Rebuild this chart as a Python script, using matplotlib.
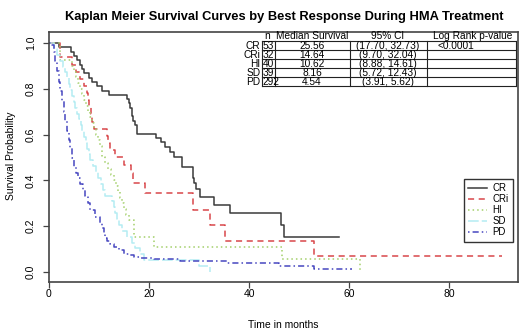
import matplotlib
matplotlib.use("Agg")
import matplotlib.pyplot as plt
from matplotlib.lines import Line2D

# ---- data (months, survival probability) ----
groups = ["CR", "CRi", "HI", "SD", "PD"]
n_pat = ["53", "32", "40", "39", "292"]
median_surv = ["25.56", "14.64", "10.62", "8.16", "4.54"]
ci_95 = ["(17.70, 32.73)", "(9.70, 32.04)", "(8.88, 14.61)", "(5.72, 12.43)", "(3.91, 5.62)"]
p_value = "<0.0001"

cr_t = [0, 2.0, 4.4, 5.0, 5.6, 6.2, 6.6, 7.0, 8.0, 8.6, 9.6, 10.6, 11.9, 15.5, 15.9,
        16.2, 16.5, 16.8, 17.1, 17.5, 21.3, 22.3, 23.2, 24.1, 24.9, 26.5, 28.7, 29.0,
        29.4, 30.1, 32.9, 36.1, 46.3, 46.9, 57.9]
cr_s = [1.0, 0.981, 0.962, 0.943, 0.925, 0.906, 0.887, 0.868, 0.849, 0.83, 0.811, 0.792,
        0.774, 0.755, 0.736, 0.717, 0.679, 0.66, 0.642, 0.604, 0.585, 0.566, 0.547,
        0.524, 0.50, 0.457, 0.41, 0.387, 0.363, 0.329, 0.293, 0.256, 0.205, 0.154, 0.154]

cri_t = [0, 2.2, 4.6, 5.3, 6.2, 7.0, 7.5, 7.8, 8.0, 8.3, 8.6, 9.0, 11.5, 11.8, 12.2,
         13.2, 14.9, 16.3, 16.8, 19.2, 28.8, 32.1, 35.2, 53.0, 90.5]
cri_s = [1.0, 0.938, 0.906, 0.875, 0.844, 0.812, 0.781, 0.75, 0.719, 0.688, 0.656,
         0.625, 0.594, 0.563, 0.531, 0.50, 0.469, 0.43, 0.387, 0.344, 0.27, 0.205,
         0.137, 0.069, 0.069]

hi_t = [0, 2.2, 4.6, 5.0, 5.4, 5.8, 6.2, 6.6, 7.0, 7.4, 7.8, 8.2, 8.6, 9.0, 9.4, 9.8,
        10.2, 10.6, 11.2, 11.8, 12.4, 13.0, 13.4, 13.8, 14.2, 14.6, 14.9, 15.3, 15.9,
        16.9, 21.0, 46.5, 62.1]
hi_s = [1.0, 0.925, 0.90, 0.875, 0.85, 0.825, 0.80, 0.775, 0.75, 0.725, 0.70, 0.675,
        0.65, 0.625, 0.60, 0.575, 0.55, 0.50, 0.475, 0.45, 0.425, 0.40, 0.375, 0.35,
        0.325, 0.30, 0.275, 0.25, 0.225, 0.154, 0.11, 0.055, 0.0]

sd_t = [0, 1.0, 1.6, 2.2, 2.7, 3.2, 3.6, 3.9, 4.2, 4.5, 4.9, 5.2, 5.6, 5.9, 6.3, 6.6,
        7.0, 7.3, 7.6, 7.9, 8.16, 8.8, 9.3, 9.8, 10.3, 10.8, 11.2, 12.6, 12.9, 13.1,
        13.5, 14.0, 14.5, 15.5, 16.5, 17.2, 18.2, 19.0, 30.0, 32.2]
sd_s = [1.0, 0.974, 0.949, 0.923, 0.897, 0.872, 0.846, 0.821, 0.795, 0.769, 0.744,
        0.718, 0.692, 0.667, 0.641, 0.615, 0.59, 0.564, 0.538, 0.513, 0.487, 0.462,
        0.436, 0.41, 0.385, 0.359, 0.333, 0.308, 0.282, 0.256, 0.231, 0.205, 0.179,
        0.154, 0.128, 0.103, 0.077, 0.051, 0.026, 0.0]

pd_t = [0, 0.5, 0.9, 1.2, 1.5, 1.9, 2.2, 2.6, 2.9, 3.2, 3.5, 3.9, 4.2, 4.54, 5.0, 5.4,
        5.8, 6.2, 6.7, 7.2, 7.7, 8.2, 9.2, 10.2, 10.6, 10.9, 11.2, 11.5, 12.2, 12.9,
        13.9, 14.9, 15.9, 16.9, 18.2, 20.9, 26.2, 35.5, 46.0, 53.0, 60.5]
pd_s = [1.0, 0.99, 0.96, 0.92, 0.876, 0.83, 0.789, 0.745, 0.70, 0.66, 0.614, 0.575,
        0.541, 0.497, 0.46, 0.43, 0.41, 0.385, 0.36, 0.33, 0.30, 0.27, 0.242, 0.213,
        0.19, 0.169, 0.15, 0.133, 0.12, 0.11, 0.095, 0.08, 0.072, 0.067, 0.06, 0.055,
        0.048, 0.038, 0.028, 0.012, 0.012]

curves = [(cr_t, cr_s), (cri_t, cri_s), (hi_t, hi_s), (sd_t, sd_s), (pd_t, pd_s)]
colors = ["#3a3a3a", "#d9474a", "#a3d06a", "#b4ecf2", "#4646c0"]
styles = ["-", (0, (4, 3)), (0, (1, 2)), (0, (7, 2)), (0, (1, 2, 4, 2))]

plt.rcParams.update({"font.family": "Liberation Sans"})

W, H = 520, 331
fig = plt.figure(figsize=(W / 100, H / 100), dpi=100)
fig.patch.set_facecolor("white")


def fx(px):
    return px / W


def fy(py):
    return 1 - py / H


ax = fig.add_axes([fx(49), fy(282), fx(518) - fx(49), fy(32) - fy(282)])

for (t, s), c, ls, g in zip(curves, colors, styles, groups):
    ax.step(t, s, where="post", color=c, linestyle=ls, lw=1.1, label=g)

ax.set_xlim(0, 93.8)
ax.set_ylim(-0.044, 1.048)
ax.set_xticks([0, 20, 40, 60, 80])
ax.set_yticks([0, 0.2, 0.4, 0.6, 0.8, 1.0])
ax.set_yticklabels(["0.0", "0.2", "0.4", "0.6", "0.8", "1.0"], rotation=90, va="center")
ax.tick_params(axis="x", length=4.3, width=0.9, labelsize=7.5, pad=1, color="#444444")
ax.tick_params(axis="y", length=4.3, width=0.9, labelsize=7.5, pad=5, color="#444444")
for sp in ax.spines.values():
    sp.set_color("#444444")
    sp.set_linewidth(1.2)

fig.text(fx(11), fy(156), "Survival Probability", rotation=90, ha="center", va="center",
         fontsize=7.5)
fig.text(fx(283), fy(325), "Time in months", ha="center", va="center", fontsize=7.5)
fig.text(fx(284), fy(17), "Kaplan Meier Survival Curves by Best Response During HMA Treatment",
         ha="center", va="center", fontsize=9.3, fontweight="bold")

leg = ax.legend(loc="upper right", bbox_to_anchor=(0.989, 0.412), fontsize=7,
                frameon=True, fancybox=False, edgecolor="#333333", framealpha=1,
                handlelength=1.9, handletextpad=0.6, labelspacing=0.1,
                borderpad=0.45, borderaxespad=0)
leg.get_frame().set_linewidth(1.0)

# ---- summary table ----
col_x = [262, 275, 350, 427, 516]
row_y = [41, 50, 59, 67.7, 76.7, 86]
for x in col_x:
    fig.add_artist(Line2D([fx(x), fx(x)], [fy(row_y[0]), fy(row_y[-1])],
                          color="#222222", lw=0.8, transform=fig.transFigure))
for y in row_y:
    fig.add_artist(Line2D([fx(col_x[0]), fx(col_x[-1])], [fy(y), fy(y)],
                          color="#222222", lw=0.8, transform=fig.transFigure))

tfs = 7.3
hy = 36
fig.text(fx(267), fy(hy), "n", ha="center", va="center", fontsize=tfs)
fig.text(fx(312), fy(hy), "Median Survival", ha="center", va="center", fontsize=tfs)
fig.text(fx(388), fy(hy), "95% CI", ha="center", va="center", fontsize=tfs)
fig.text(fx(473), fy(hy), "Log Rank p-value", ha="center", va="center", fontsize=tfs)
for i, g in enumerate(groups):
    yc = (row_y[i] + row_y[i + 1]) / 2 + 0.3
    fig.text(fx(260.5), fy(yc), g, ha="right", va="center", fontsize=tfs)
    fig.text(fx(262.5), fy(yc), n_pat[i], ha="left", va="center", fontsize=tfs)
    fig.text(fx(312), fy(yc), median_surv[i], ha="center", va="center", fontsize=tfs)
    fig.text(fx(388), fy(yc), ci_95[i], ha="center", va="center", fontsize=tfs)
fig.text(fx(456), fy((row_y[0] + row_y[1]) / 2 + 0.3), p_value, ha="center", va="center",
         fontsize=tfs)

fig.savefig("out.png", dpi=100, facecolor="white")
